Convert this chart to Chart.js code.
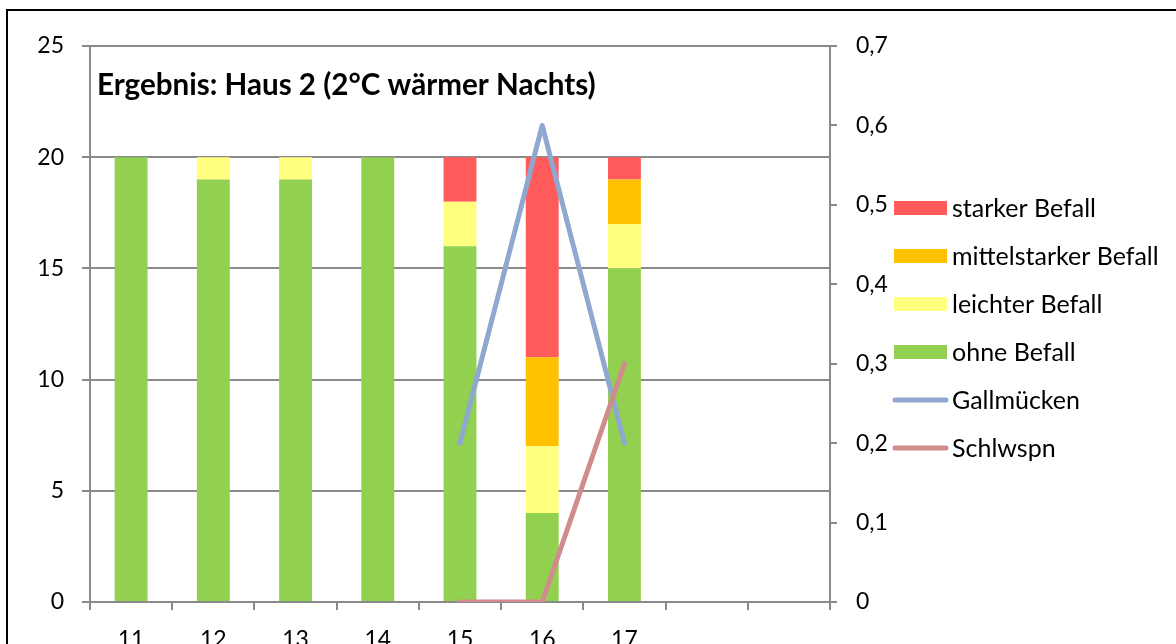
<!DOCTYPE html>
<html lang="de">
<head>
    <meta charset="UTF-8">
    <title>Ergebnis: Haus 2 (2°C wärmer Nachts)</title>
    <style>
        body {
            margin: 0;
            padding: 0;
            background-color: #ffffff;
            overflow: hidden;
        }
        canvas {
            display: block;
        }
    </style>
</head>
<body>
    <canvas id="befallChart" width="1176" height="644"></canvas>

    <script src="https://cdn.jsdelivr.net/npm/chart.js"></script>
    <script>
        // Kategorien (zwei leere Plaetze am Ende wie im Original)
        const categories = ['11', '12', '13', '14', '15', '16', '17', '', ''];

        // Befall je Woche (Anzahl Pflanzen, gestapelt)
        const ohneBefall = [20, 19, 19, 20, 16, 4, 15, null, null];
        const leichterBefall = [0, 1, 1, 0, 2, 3, 2, null, null];
        const mittelstarkerBefall = [0, 0, 0, 0, 0, 4, 2, null, null];
        const starkerBefall = [0, 0, 0, 0, 2, 9, 1, null, null];

        // Nuetzlinge (rechte Achse)
        const gallmuecken = [null, null, null, null, 0.2, 0.6, 0.2, null, null];
        const schlwspn = [null, null, null, null, 0, 0, 0.3, null, null];

        // Achsen
        const leftMax = 25;
        const leftStep = 5;
        const rightMax = 0.7;
        const rightStep = 0.1;

        const titleText = 'Ergebnis: Haus 2 (2°C wärmer Nachts)';
        const fontFamily = "Lato, 'Open Sans', sans-serif";
        const axisGrey = '#8a8a8a';

        Chart.defaults.font.family = fontFamily;
        Chart.defaults.font.size = 23;
        Chart.defaults.color = '#000000';

        // Rahmen um das Diagramm (oben und links sichtbar)
        const framePlugin = {
            id: 'frame',
            afterDraw(chart) {
                const ctx = chart.ctx;
                ctx.save();
                ctx.strokeStyle = '#000000';
                ctx.lineWidth = 2;
                ctx.beginPath();
                ctx.moveTo(chart.width, 10);
                ctx.lineTo(7, 10);
                ctx.lineTo(7, chart.height);
                ctx.stroke();
                ctx.restore();
            }
        };

        // Titel innerhalb der Zeichenflaeche
        const titlePlugin = {
            id: 'innerTitle',
            afterDraw(chart) {
                const ctx = chart.ctx;
                ctx.save();
                ctx.font = 'bold 29.6px ' + fontFamily;
                ctx.fillStyle = '#000000';
                ctx.textBaseline = 'alphabetic';
                ctx.textAlign = 'left';
                ctx.fillText(titleText, chart.chartArea.left + 7, 95);
                ctx.restore();
            }
        };

        // Legende rechts, Reihenfolge wie in Excel
        const legendPlugin = {
            id: 'sideLegend',
            afterDraw(chart) {
                const ctx = chart.ctx;
                const order = [3, 2, 1, 0, 4, 5];
                const x0 = 894;
                const y0 = 208;
                const rowH = 48;
                ctx.save();
                ctx.font = '25px ' + fontFamily;
                ctx.textBaseline = 'middle';
                ctx.textAlign = 'left';
                order.forEach((idx, i) => {
                    const ds = chart.data.datasets[idx];
                    const y = y0 + i * rowH;
                    if (ds.type === 'line') {
                        ctx.strokeStyle = ds.borderColor;
                        ctx.lineWidth = 5;
                        ctx.lineCap = 'round';
                        ctx.beginPath();
                        ctx.moveTo(x0 + 1, y);
                        ctx.lineTo(x0 + 52, y);
                        ctx.stroke();
                    } else {
                        ctx.fillStyle = ds.backgroundColor;
                        ctx.fillRect(x0, y - 7, 53, 14);
                    }
                    ctx.fillStyle = '#000000';
                    ctx.fillText(ds.label, x0 + 58, y + 1);
                });
                ctx.restore();
            }
        };

        function commaFormat(value) {
            if (value === 0) return '0';
            return value.toFixed(1).replace('.', ',');
        }

        const ctx = document.getElementById('befallChart').getContext('2d');
        new Chart(ctx, {
            type: 'bar',
            data: {
                labels: categories,
                datasets: [
                    { type: 'bar', label: 'ohne Befall', data: ohneBefall, backgroundColor: '#92d050', yAxisID: 'y', order: 2 },
                    { type: 'bar', label: 'leichter Befall', data: leichterBefall, backgroundColor: '#ffff80', yAxisID: 'y', order: 2 },
                    { type: 'bar', label: 'mittelstarker Befall', data: mittelstarkerBefall, backgroundColor: '#ffc000', yAxisID: 'y', order: 2 },
                    { type: 'bar', label: 'starker Befall', data: starkerBefall, backgroundColor: '#ff5b5b', yAxisID: 'y', order: 2 },
                    {
                        type: 'line', label: 'Gallmücken', data: gallmuecken, yAxisID: 'y1',
                        borderColor: '#8ea8cf', borderWidth: 5, pointRadius: 0,
                        borderCapStyle: 'round', borderJoinStyle: 'round', order: 1
                    },
                    {
                        type: 'line', label: 'Schlwspn', data: schlwspn, yAxisID: 'y1',
                        borderColor: '#d08c8c', borderWidth: 5, pointRadius: 0,
                        borderCapStyle: 'round', borderJoinStyle: 'round', order: 0
                    }
                ]
            },
            options: {
                responsive: false,
                animation: false,
                datasets: {
                    bar: {
                        barPercentage: 0.4,
                        categoryPercentage: 1,
                        borderWidth: 0
                    }
                },
                layout: {
                    padding: { top: 46, left: 0, right: 0, bottom: 0 }
                },
                plugins: {
                    legend: { display: false },
                    tooltip: { enabled: false },
                    title: { display: false }
                },
                scales: {
                    x: {
                        stacked: true,
                        offset: true,
                        grid: {
                            offset: true,
                            drawOnChartArea: false,
                            drawTicks: true,
                            tickLength: 8,
                            color: axisGrey,
                            lineWidth: 2
                        },
                        border: { color: axisGrey, width: 2 },
                        ticks: { padding: 16, maxRotation: 0, autoSkip: false, color: '#000000' },
                        afterFit(scale) { scale.height = 42; }
                    },
                    y: {
                        stacked: true,
                        position: 'left',
                        min: 0,
                        max: leftMax,
                        ticks: { stepSize: leftStep, padding: 18, color: '#000000' },
                        grid: { color: axisGrey, lineWidth: 2, tickLength: 8 },
                        border: { color: axisGrey, width: 2 },
                        afterFit(scale) { scale.width = 90; }
                    },
                    y1: {
                        position: 'right',
                        min: 0,
                        max: rightMax,
                        ticks: { stepSize: rightStep, padding: 19, color: '#000000', callback: commaFormat },
                        grid: { drawOnChartArea: false, color: axisGrey, lineWidth: 2, tickLength: 7 },
                        border: { color: axisGrey, width: 2 },
                        afterFit(scale) { scale.width = 346; }
                    }
                }
            },
            plugins: [framePlugin, titlePlugin, legendPlugin]
        });
    </script>
</body>
</html>
